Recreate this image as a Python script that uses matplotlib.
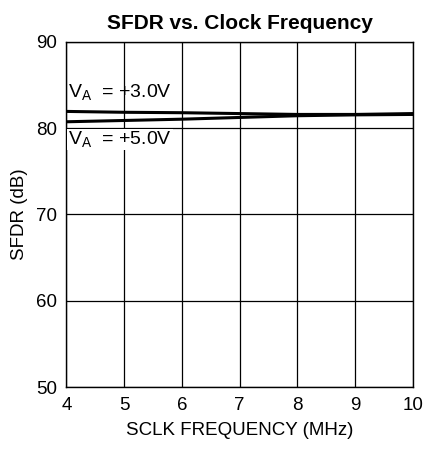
import matplotlib
matplotlib.use("Agg")
import matplotlib.pyplot as plt

# values
sclk_mhz = [4, 5, 6, 7, 8, 9, 10]
sfdr_3v0 = [81.95, 81.85, 81.8, 81.7, 81.6, 81.6, 81.7]
sfdr_5v0 = [80.75, 80.9, 81.05, 81.25, 81.45, 81.55, 81.6]

x_ticks = [4, 5, 6, 7, 8, 9, 10]
y_ticks = [50, 60, 70, 80, 90]

plt.rcParams.update({
    "font.family": ["Liberation Sans", "DejaVu Sans"],
    "font.size": 13.5,
})

fig = plt.figure(figsize=(4.23, 4.5), dpi=100)
ax = fig.add_axes([0.157, 0.14, 0.819, 0.7667])

ax.plot(sclk_mhz, sfdr_3v0, color="black", lw=2.2, zorder=3)
ax.plot(sclk_mhz, sfdr_5v0, color="black", lw=2.2, zorder=3)

ax.set_xlim(4, 10)
ax.set_ylim(50, 90)
ax.set_xticks(x_ticks)
ax.set_yticks(y_ticks)
ax.grid(True, color="black", lw=0.9)
ax.tick_params(length=0, labelsize=13.5)
ax.tick_params(axis="x", pad=7)
ax.tick_params(axis="y", pad=6.5)
for s in ax.spines.values():
    s.set_linewidth(1.0)

ax.text(4.03, 84.1, r"V$_\mathregular{A}$  = +3.0V", fontsize=14, va="center",
        ha="left", zorder=4)
ax.text(4.03, 78.7, r"V$_\mathregular{A}$  = +5.0V", fontsize=14, va="center",
        ha="left", bbox=dict(facecolor="white", edgecolor="none", pad=0.5), zorder=4)

ax.set_title("SFDR vs. Clock Frequency", fontsize=15, fontweight="bold", pad=9)
ax.set_xlabel("SCLK FREQUENCY (MHz)", fontsize=13.5, labelpad=6)
ax.set_ylabel("SFDR (dB)", fontsize=13.5, labelpad=6)

fig.savefig("out.png", dpi=100)
